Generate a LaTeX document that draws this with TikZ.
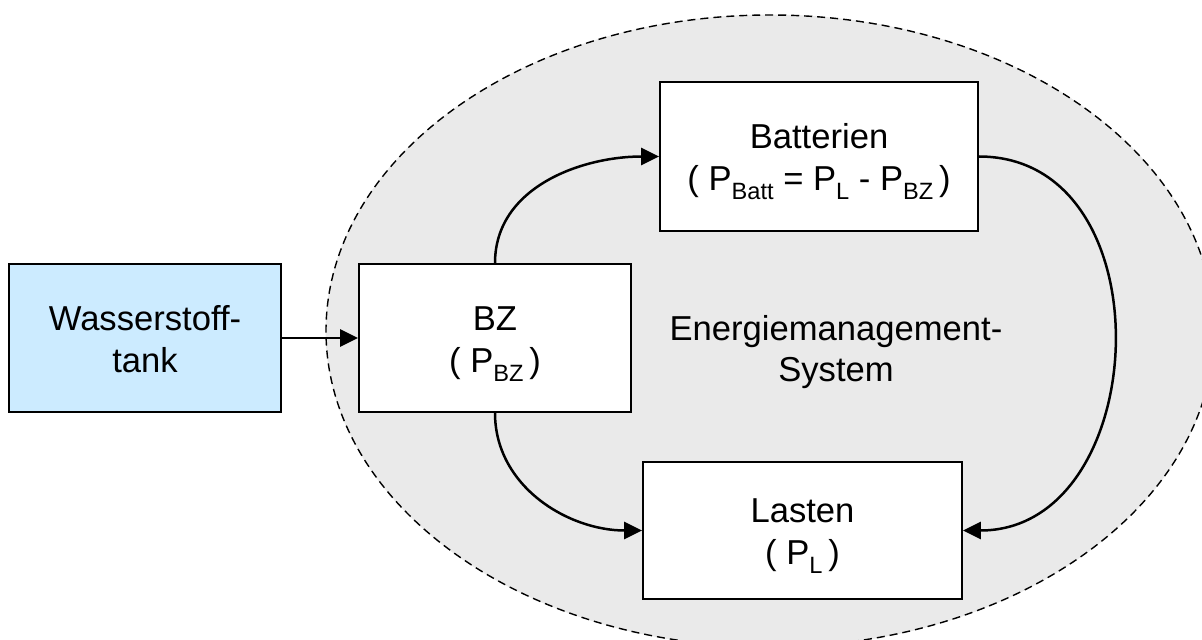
\documentclass[tikz,border=0pt]{standalone}
\usepackage{fontspec}
\setmainfont{Liberation Sans}
\usepackage{tikz}
\usetikzlibrary{arrows.meta,positioning}
\definecolor{Cloud}{HTML}{EAEAEA}
\definecolor{Sky}{HTML}{CCEBFF}
\newcommand{\idx}[1]{\raisebox{-4.5pt}{\fontsize{11.8}{12}\selectfont #1}}
\tikzset{
  block/.style={draw,line width=0.9pt,fill=white,align=center,
    font=\fontsize{17.3}{20.8}\selectfont,inner sep=0pt,
    text height=34pt,text depth=0pt},
  flow/.style={-{Triangle[length=9pt,width=8.5pt]},line width=1.25pt}
}
\begin{document}
\begin{tikzpicture}[x=0.5pt,y=-0.5pt]
        \useasboundingbox (0,0) rectangle (1202,640);
        \draw[Cloud,fill=Cloud] (770,331) ellipse [x radius=222pt,y radius=158pt];
        \draw[dash pattern=on 4pt off 2.5pt,line width=0.7pt] (770,331) ellipse [x radius=222pt,y radius=158pt];
        \node[block,fill=Sky,minimum width=136pt,minimum height=74pt] (tank) at (145,338) {Wasserstoff-\\tank};
        \node[block,minimum width=136pt,minimum height=74pt] (bz) at (495,338) {BZ\\( P\idx{BZ}\,)};
        \node[block,minimum width=159pt,minimum height=74.5pt] (batt) at (819,156.5) {Batterien\\( P\idx{Batt} = P\idx{L} - P\idx{BZ}\,)};
        \node[block,minimum width=159.5pt,minimum height=68.5pt] (last) at (802.5,530.5) {Lasten\\( P\idx{L}\,)};
        \node[align=center,font=\fontsize{17.3}{20.8}\selectfont] (ems) at (836,352) {Energiemanagement-\\System};
        \draw[flow] (tank.east) -- (bz.west);
        \draw[flow] (bz.north) to[out=90,in=180] (batt.west);
        \draw[flow] (bz.south) to[out=-90,in=180] (last.west);
        \draw[flow] (batt.east) to[out=0,in=0,looseness=1.3] (last.east);
      \end{tikzpicture}
\end{document}
